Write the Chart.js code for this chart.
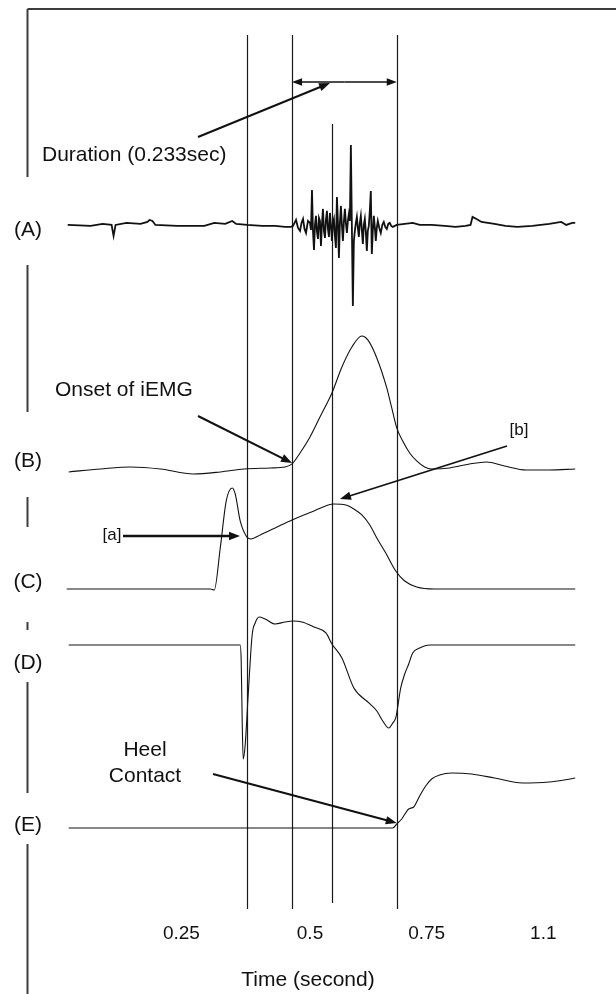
<!DOCTYPE html>
<html lang="en">

<head>
    <meta charset="UTF-8">
    <title>EMG traces</title>
    <script src="https://cdn.jsdelivr.net/npm/chart.js"></script>
    <style>
        body { margin: 0; background: #fff; overflow: hidden; }
        canvas { display: block; }
    </style>
</head>

<body>
    <canvas id="grafico" width="616" height="994"></canvas>
</body>

</html>

<script>
    // time in seconds (schematic time base of the figure), value in arbitrary units
    // (A) raw EMG
    const traceA = [
        [0.014, 0.02], [0.060, 0], [0.084, 0.04], [0.102, 0.02], [0.106, -0.2], [0.110, 0.02],
        [0.132, 0.06], [0.160, 0.04], [0.174, 0.08], [0.178, 0.12], [0.184, 0.1], [0.190, 0.02],
        [0.234, 0], [0.288, 0], [0.308, 0.06], [0.330, 0.04], [0.344, 0.1], [0.352, 0.04],
        [0.374, 0.02], [0.404, 0], [0.430, 0], [0.450, -0.02], [0.462, -0.02],
        [0.466, 0], [0.470, 0.08], [0.472, 0.12], [0.476, -0.04], [0.480, -0.1], [0.483, 0.06],
        [0.486, 0.14], [0.489, -0.06], [0.492, -0.14], [0.496, 0.1], [0.500, 0.06], [0.502, -0.08],
        [0.504, 0.72], [0.506, -0.1], [0.508, -0.48], [0.510, 0.02], [0.512, 0.2], [0.514, -0.12],
        [0.516, -0.26], [0.518, 0.16], [0.520, 0.1], [0.522, -0.4], [0.524, 0.04], [0.526, 0.34],
        [0.528, -0.1], [0.530, -0.24], [0.532, 0.12], [0.534, 0.3], [0.536, -0.06], [0.538, -0.22],
        [0.540, 0.26], [0.542, 0.02], [0.544, -0.3], [0.546, 0.06], [0.548, 0.14], [0.550, -0.2],
        [0.552, -0.44], [0.554, 0.58], [0.556, 0.1], [0.558, -0.64], [0.560, 0.06], [0.562, 0.4],
        [0.564, 0.02], [0.566, -0.3], [0.568, 0.08], [0.570, 0.34], [0.572, 0.06], [0.574, -0.14],
        [0.576, 0.1], [0.578, 0.24], [0.580, 0.1], [0.582, 1.62], [0.584, 0], [0.586, -1.6],
        [0.588, -0.3], [0.590, -0.1], [0.592, 0.06], [0.594, 0.18], [0.596, -0.04], [0.598, -0.22],
        [0.600, 0.06], [0.602, 0.2], [0.604, -0.08], [0.606, -0.36], [0.608, 0.02], [0.610, 0.14],
        [0.612, -0.12], [0.614, -0.5], [0.616, -0.1], [0.618, 0], [0.620, 0.3], [0.622, 0.7],
        [0.624, -0.56], [0.626, -0.1], [0.628, 0.2], [0.630, -0.02], [0.632, -0.3], [0.634, -0.04],
        [0.636, 0.1], [0.639, -0.04], [0.642, -0.14], [0.645, 0.02], [0.648, 0.08], [0.651, -0.02],
        [0.654, -0.06], [0.657, 0.04], [0.660, 0.06], [0.663, 0], [0.666, -0.02], [0.674, 0.02],
        [0.690, 0.04], [0.706, 0.06], [0.720, 0.02], [0.744, 0.02], [0.770, 0], [0.792, -0.02],
        [0.812, 0], [0.822, 0.02], [0.826, 0.18], [0.834, 0.14], [0.844, 0.08], [0.870, 0.04],
        [0.892, 0], [0.916, -0.02], [0.946, 0], [0.980, 0.04], [1.004, 0.08], [1.014, 0.02],
        [1.026, 0.06], [1.032, 0.06]
    ];

    // (B) integrated EMG
    const traceB = [
        [0.016, -0.01], [0.08, 0.02], [0.14, 0.04], [0.2, 0.02], [0.266, -0.03], [0.32, -0.01],
        [0.368, 0.02], [0.42, 0.03], [0.45, 0.04], [0.464, 0.07], [0.48, 0.18], [0.5, 0.34],
        [0.52, 0.54], [0.544, 0.78], [0.564, 1.04], [0.584, 1.24], [0.604, 1.35], [0.616, 1.31],
        [0.634, 1.13], [0.654, 0.83], [0.664, 0.63], [0.674, 0.43], [0.686, 0.3], [0.7, 0.18],
        [0.714, 0.1], [0.73, 0.04], [0.744, 0.02], [0.78, 0.03], [0.82, 0.07], [0.854, 0.09],
        [0.89, 0.05], [0.934, 0.01], [0.98, 0.01], [1.032, 0.02]
    ];

    // (C)
    const traceC = [
        [0.012, 0], [0.3, 0], [0.308, -0.01], [0.32, 0.41], [0.332, 0.88], [0.344, 1.01],
        [0.35, 0.95], [0.36, 0.68], [0.372, 0.53], [0.382, 0.5], [0.4, 0.54], [0.43, 0.61],
        [0.464, 0.69], [0.508, 0.78], [0.548, 0.85], [0.572, 0.84], [0.588, 0.8], [0.604, 0.74],
        [0.62, 0.64], [0.634, 0.51], [0.652, 0.36], [0.672, 0.18], [0.69, 0.08], [0.714, 0.02],
        [0.75, 0], [1.032, 0]
    ];

    // (D)
    const traceD = [
        [0.016, 0], [0.36, 0], [0.362, -0.16], [0.364, -0.76], [0.366, -1.14], [0.37, -1.0],
        [0.376, -0.5], [0.384, 0.1], [0.39, 0.22], [0.398, 0.28], [0.41, 0.26], [0.43, 0.21],
        [0.45, 0.23], [0.466, 0.24], [0.484, 0.23], [0.508, 0.18], [0.532, 0.12], [0.544, 0.01],
        [0.564, -0.13], [0.588, -0.43], [0.618, -0.58], [0.634, -0.66], [0.646, -0.76],
        [0.658, -0.83], [0.666, -0.78], [0.672, -0.73], [0.682, -0.43], [0.69, -0.29],
        [0.698, -0.19], [0.706, -0.08], [0.72, -0.03], [0.74, 0], [1.032, 0]
    ];

    // (E)
    const traceE = [
        [0.016, 0], [0.666, 0], [0.674, 0.08], [0.684, 0.18], [0.698, 0.38], [0.708, 0.42],
        [0.72, 0.64], [0.732, 0.84], [0.744, 0.98], [0.76, 1.06], [0.784, 1.1], [0.824, 1.08],
        [0.87, 1.0], [0.926, 0.9], [0.98, 0.92], [1.01, 0.96], [1.032, 1.0]
    ];

    const traceNames = ['(A)', '(B)', '(C)', '(D)', '(E)'];
    const markerTimes = [0.374, 0.464, 0.544, 0.674];
    const tickTimes = [0.242, 0.5, 0.734, 0.968];
    const tickLabels = ['0.25', '0.5', '0.75', '1.1'];

    // layout of each band: baseline pixel and pixels per unit
    const bandas = [
        { id: 'yA', base: 225, ppu: 50, label: 230 },
        { id: 'yB', base: 470, ppu: 100, label: 461 },
        { id: 'yC', base: 588, ppu: 100, label: 582 },
        { id: 'yD', base: 644, ppu: 100, label: 663 },
        { id: 'yE', base: 827, ppu: 50, label: 825 }
    ];

    const FONTE = '"Liberation Sans", Arial, Helvetica, sans-serif';
    const TINTA = '#111';

    function seta(ctx, x1, y1, x2, y2, largura, cabeca) {
        const ang = Math.atan2(y2 - y1, x2 - x1);
        const c = Math.cos(ang), s = Math.sin(ang);
        ctx.lineWidth = largura;
        ctx.beginPath();
        ctx.moveTo(x1, y1);
        ctx.lineTo(x2 - c * cabeca * 0.6, y2 - s * cabeca * 0.6);
        ctx.stroke();
        const w = cabeca * 0.38;
        ctx.beginPath();
        ctx.moveTo(x2, y2);
        ctx.lineTo(x2 - c * cabeca - s * w, y2 - s * cabeca + c * w);
        ctx.lineTo(x2 - c * cabeca + s * w, y2 - s * cabeca - c * w);
        ctx.closePath();
        ctx.fill();
    }

    const moldura = {
        id: 'moldura',
        beforeDatasetsDraw(chart) {
            const ctx = chart.ctx;
            const x = chart.scales.x;
            ctx.save();
            // frame top and broken left rule
            ctx.strokeStyle = '#3d3d3d';
            ctx.lineWidth = 2;
            ctx.beginPath();
            ctx.moveTo(27.5, 9);
            ctx.lineTo(616, 9);
            const partes = [[9, 177], [265, 412], [497, 527], [622, 630], [682, 793], [844, 994]];
            partes.forEach(function (p) {
                ctx.moveTo(27.5, p[0]);
                ctx.lineTo(27.5, p[1]);
            });
            ctx.stroke();

            // vertical event lines
            ctx.strokeStyle = '#1a1a1a';
            ctx.lineWidth = 1.2;
            markerTimes.forEach(function (t, i) {
                const px = Math.round(x.getPixelForValue(t)) + 0.5;
                ctx.beginPath();
                ctx.moveTo(px, i === 2 ? 124 : 35);
                ctx.lineTo(px, i === 2 ? 903 : 909);
                ctx.stroke();
            });
            ctx.restore();
        },
        afterDatasetsDraw(chart) {
            const ctx = chart.ctx;
            const x = chart.scales.x;
            const m = markerTimes.map(function (t) { return x.getPixelForValue(t); });
            ctx.save();
            ctx.fillStyle = TINTA;
            ctx.strokeStyle = TINTA;
            ctx.textBaseline = 'middle';

            // trace names
            ctx.font = '21px ' + FONTE;
            ctx.textAlign = 'center';
            bandas.forEach(function (b, i) {
                ctx.fillText(traceNames[i], 28, b.label);
            });

            // texts
            ctx.textAlign = 'left';
            ctx.fillText('Duration (0.233sec)', 42, 155);
            ctx.fillText('Onset of iEMG', 55, 390);
            ctx.textAlign = 'center';
            ctx.fillText('Heel', 145, 750);
            ctx.fillText('Contact', 145, 776);
            ctx.font = '17px ' + FONTE;
            ctx.fillText('[b]', 519, 430);
            ctx.fillText('[a]', 112, 535);

            // arrows
            const meio = (m[1] + m[3]) / 2;
            seta(ctx, meio, 82, m[1], 82, 1.6, 10);
            seta(ctx, meio, 82, m[3], 82, 1.6, 10);
            seta(ctx, 198, 137, 330, 83, 2, 11);
            seta(ctx, 198, 416, m[1], 463, 2, 11);
            seta(ctx, 507, 446, 340, 499, 1.8, 11);
            seta(ctx, 123, 536, 240, 536, 2.6, 11);
            seta(ctx, 213, 774, m[3], 823, 2, 11);
            ctx.restore();
        }
    };

    function montarDataset(trace, eixo, largura) {
        return {
            data: trace.map(function (p) { return { x: p[0], y: p[1] }; }),
            yAxisID: eixo,
            borderColor: TINTA,
            borderWidth: largura,
            pointRadius: 0,
            fill: false,
            cubicInterpolationMode: eixo === 'yA' ? 'default' : 'monotone',
            tension: 0
        };
    }

    // place each hidden y axis so its baseline lands on the band position
    function ajustarFaixas(area) {
        bandas.forEach(function (b) {
            escalas[b.id].min = -(area.bottom - b.base) / b.ppu;
            escalas[b.id].max = (b.base - area.top) / b.ppu;
        });
    }

    const escalas = {
        x: {
            type: 'linear',
            min: -0.12,
            max: 1.112,
            grid: { display: false, drawTicks: false },
            border: { display: false },
            afterBuildTicks: function (axis) {
                axis.ticks = tickTimes.map(function (v) { return { value: v }; });
            },
            ticks: {
                autoSkip: false,
                maxRotation: 0,
                padding: 11,
                color: TINTA,
                font: { size: 19, family: FONTE },
                callback: function (value, index) { return tickLabels[index]; }
            },
            title: {
                display: true,
                text: 'Time (second)',
                color: TINTA,
                font: { size: 21, family: FONTE },
                padding: { top: 12, bottom: 1 }
            }
        }
    };
    bandas.forEach(function (b) {
        escalas[b.id] = { type: 'linear', display: false };
    });
    ajustarFaixas({ top: 0, bottom: 910 });

    const config = {
        type: 'line',
        data: {
            datasets: [
                montarDataset(traceA, 'yA', 1.8),
                montarDataset(traceB, 'yB', 1.1),
                montarDataset(traceC, 'yC', 1.1),
                montarDataset(traceD, 'yD', 1.1),
                montarDataset(traceE, 'yE', 1.1)
            ]
        },
        options: {
            responsive: false,
            animation: false,
            devicePixelRatio: 1,
            layout: { padding: 0 },
            plugins: { legend: { display: false }, tooltip: { enabled: false } },
            scales: escalas
        },
        plugins: [moldura]
    };

    Chart.defaults.font.family = FONTE;
    const grafico = new Chart(document.getElementById('grafico'), config);
    ajustarFaixas(grafico.chartArea);
    grafico.update();
</script>
